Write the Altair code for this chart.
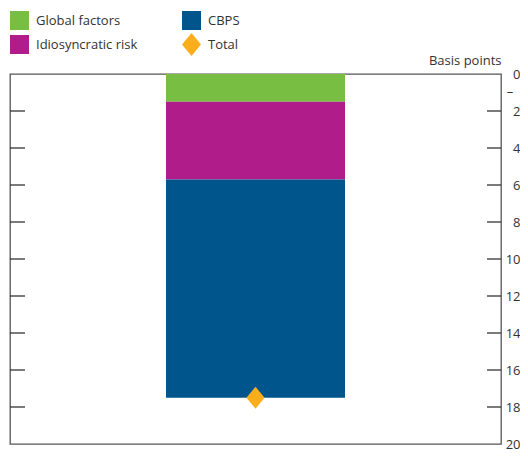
import altair as alt
import pandas as pd

# ---- data ----
series = ["Global factors", "Idiosyncratic risk", "CBPS"]
values = [1.5, 4.2, 11.8]          # basis points (drawn downwards)
total_label = ["Total"]
total_value = [17.5]
legend_order = ["Global factors", "Idiosyncratic risk", "CBPS", "Total"]
colors = ["#78BE43", "#B01C89", "#00558C", "#FBAE1C"]
tick_values = [2, 4, 6, 8, 10, 12, 14, 16, 18]
axis_values = [0, 2, 4, 6, 8, 10, 12, 14, 16, 18, 20]

W, H = 491, 370
FONT = "Open Sans"
DIAMOND = "M0,-1.2L1,0L0,1.2L-1,0Z"

bars_df = pd.DataFrame({"cat": ["x"] * len(series), "series": series,
                        "value": values, "ord": list(range(len(series)))})
total_df = pd.DataFrame({"cat": ["x"], "series": total_label, "value": total_value})
ticks_df = pd.DataFrame({"tick": tick_values})

xscale = alt.Scale(paddingInner=0, paddingOuter=0.8715)
yscale = alt.Scale(domain=[0, 20], reverse=True, nice=False, zero=False)
yaxis = alt.Axis(orient="right", values=axis_values, ticks=False,
                 domain=False, grid=False, labelAlign="right",
                 labelPadding=19, labelFontSize=13, labelFont=FONT,
                 labelColor="#333333", labelOverlap=False,
                 labelBound=False, labelFlush=False,
                 title="Basis points",
                 titleAngle=0, titleAlign="right", titleBaseline="bottom",
                 titleX=0, titleY=-7, titleFont=FONT, titleFontSize=13,
                 titleFontWeight="normal", titleColor="#333333")
color = alt.Color("series:N", title=None,
                  scale=alt.Scale(domain=legend_order, range=colors))

bars = alt.Chart(bars_df).mark_bar(stroke=None).encode(
    x=alt.X("cat:N", axis=None, scale=xscale),
    y=alt.Y("value:Q", stack="zero", scale=yscale, axis=yaxis, title="Basis points"),
    order=alt.Order("ord:Q"),
    color=color,
)

points = alt.Chart(total_df).mark_point(filled=True, size=330, opacity=1).encode(
    x=alt.X("cat:N", axis=None, scale=xscale),
    y=alt.Y("value:Q", scale=yscale, axis=yaxis, title="Basis points"),
    color=color,
    shape=alt.Shape("series:N", title=None,
                    scale=alt.Scale(domain=legend_order,
                                    range=["square", "square", "square", DIAMOND])),
)

ticks_left = alt.Chart(ticks_df).mark_rule(color="#333333", strokeWidth=1.3).encode(
    y=alt.Y("tick:Q", scale=yscale, axis=yaxis, title="Basis points"),
    x=alt.value(0), x2=alt.value(15))
ticks_right = alt.Chart(ticks_df).mark_rule(color="#333333", strokeWidth=1.3).encode(
    y=alt.Y("tick:Q", scale=yscale, axis=yaxis, title="Basis points"),
    x=alt.value(W - 14), x2=alt.value(W))

minus = alt.Chart(pd.DataFrame({"t": ["–"]})).mark_text(
    font=FONT, fontSize=13, color="#333333", align="center", baseline="middle"
).encode(text="t:N", x=alt.value(W + 9), y=alt.value(18))

chart = alt.layer(bars, points, ticks_left, ticks_right, minus).properties(
    width=W, height=H,
    autosize=alt.AutoSizeParams(type="none"),
    padding={"left": 2, "top": 66, "right": 19, "bottom": 7},
).configure_view(stroke="#555555", strokeWidth=1.3).configure_legend(
    orient="none", legendX=0, legendY=-63, columns=2, padding=0,
    symbolSize=361, symbolType="square", symbolStrokeWidth=0,
    labelFont=FONT, labelFontSize=13, labelColor="#333333",
    labelOffset=7, rowPadding=3, columnPadding=44, labelLimit=300,
).configure_axis(labelFont=FONT, labelOverlap=False)

chart.save("out.html", embed_options={"renderer": "svg", "actions": False})
